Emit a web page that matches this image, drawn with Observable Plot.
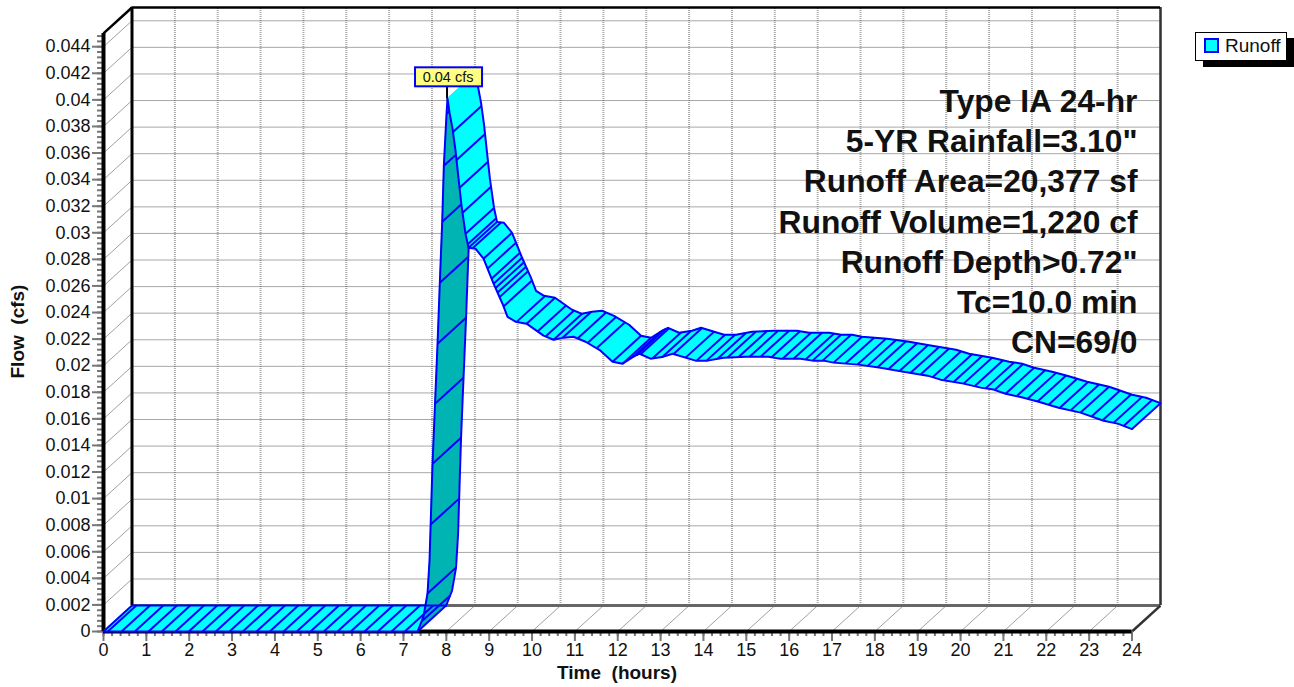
<!DOCTYPE html>
<html><head><meta charset="utf-8">
<script src="https://cdn.jsdelivr.net/npm/d3@7"></script>
<script src="https://cdn.jsdelivr.net/npm/@observablehq/plot@0.6"></script>
<style>
html,body{margin:0;padding:0;background:#fff;font-family:"Liberation Sans",Arial,sans-serif}
#wrap{position:relative;width:1294px;height:687px;overflow:hidden}
#legend{position:absolute;left:1195px;top:32px;width:90px;height:27px;border:1.5px solid #000;background:#fff;box-shadow:8px 6px 0 #000;font-size:19px;color:#111}
#legend i{position:absolute;left:8px;top:5px;width:11px;height:11px;border:2px solid #0000ff;background:#00ffff}
#legend span{position:absolute;left:29px;top:2px}
</style></head><body><div id="wrap"><div id="legend"><i></i><span>Runoff</span></div></div>
<script>
// Hydrograph (front edge of the 3-D ribbon)
const flatTimes = [0, 7.33];
const flatFlows = [0, 0];
const riseTimes = [7.33, 7.468, 7.561, 7.608, 7.678, 7.736, 7.795, 7.848, 7.904, 7.942, 8.005, 8.028];
const riseFlows = [0, .00113, .00286, .00534, .01263, .01714, .02165, .02624, .03083, .03504, .03895, .04008];
const fallTimes = [8.028, 8.075, 8.145, 8.215, 8.285, 8.355, 8.448, 8.518, 8.681, 8.868, 9.102, 9.311, 9.428, 9.615, 9.872, 10.268, 10.502, 10.735, 10.968, 11.249, 11.599, 11.879, 12.112, 12.369, 12.509, 12.765, 13.069, 13.279, 13.816, 14.096, 14.469, 14.982, 15.519, 15.799, 16.266, 16.546, 16.803, 17.036, 17.62, 18.133, 18.67, 19.23, 19.533, 20.07, 20.467, 20.77, 21.05, 21.47, 21.82, 22.287, 22.8, 23.337, 23.664, 24];
const fallFlows = [.04008, .03902, .03782, .03617, .03406, .03203, .02992, .02887, .0288, .02805, .02617, .02466, .02368, .02331, .02316, .02226, .02195, .02211, .02218, .0218, .02113, .0203, .02015, .02068, .0209, .02053, .02068, .0209, .02038, .02038, .0206, .02068, .02068, .02053, .02053, .02038, .02038, .02023, .02008, .01985, .01955, .01925, .01895, .01865, .01835, .0182, .01789, .01759, .01729, .01684, .01647, .01586, .01564, .01523];
// Times at which the ribbon carries a hatch stroke
const hatchFlat = [0, .1, .42, .73, 1.05, 1.36, 1.68, 1.99, 2.31, 2.62, 2.94, 3.25, 3.57, 3.88, 4.2, 4.51, 4.83, 5.14, 5.46, 5.77, 6.09, 6.4, 6.72, 7.03, 7.33];
const hatchRise = [7.421, 7.561, 7.634, 7.678, 7.736, 7.795, 7.848, 7.904, 7.942, 8.005];
const hatchFall = [8.155, 8.238, 8.308, 8.378, 8.448, 8.5, 8.518, 8.611, 8.868, 8.961, 9.055, 9.102, 9.148, 9.195, 9.242, 9.335, 9.638, 9.872, 10.128, 10.315, 10.502, 10.712, 11.062, 11.295, 11.505, 11.879, 12.112, 12.345, 12.439, 12.532, 12.812, 13.045, 13.302, 13.582, 13.839, 14.072, 14.329, 14.562, 14.819, 15.076, 15.333, 15.589, 15.846, 16.103, 16.383, 16.546, 16.78, 17.036, 17.316, 17.596, 17.83, 18.063, 18.32, 18.576, 18.833, 19.067, 19.347, 19.603, 19.837, 20.07, 20.327, 20.583, 20.793, 21.05, 21.307, 21.564, 21.797, 22.054, 22.31, 22.567, 22.8, 23.057, 23.314, 23.571, 23.804, 24];

const xTicks = [0,1,2,3,4,5,6,7,8,9,10,11,12,13,14,15,16,17,18,19,20,21,22,23,24];
const yTicks = [0,.002,.004,.006,.008,.01,.012,.014,.016,.018,.02,.022,.024,.026,.028,.03,.032,.034,.036,.038,.04,.042,.044];
const xMinor = d3.range(0, 120.5, 1).map(d => d / 5);
const yMinor = d3.range(0, 112.5, 1).map(d => d * .0004);
const noteLines = ["Type IA 24-hr", "5-YR Rainfall=3.10\"", "Runoff Area=20,377 sf", "Runoff Volume=1,220 cf", "Runoff Depth>0.72\"", "Tc=10.0 min", "CN=69/0"];
const peak = {t: 8.028, q: .04008, label: "0.04 cfs"};

const xTop = 24, yTop = .045;      // front plane extent
const depthX = .665, depthY = .00195; // projected depth of the chart box, in data units

const rows = (ts, qs) => ts.map((t, i) => ({t, q: qs[i]}));
const flat = rows(flatTimes, flatFlows), rise = rows(riseTimes, riseFlows), fall = rows(fallTimes, fallFlows);
const hatches = (ts, curve) => ts.map(t => {
  const i = Math.min(Math.max(d3.bisector(d => d.t).left(curve, t), 1), curve.length - 1);
  const a = curve[i - 1], b = curve[i];
  return {t, q: a.q + (b.q - a.q) * (t - a.t) / (b.t - a.t)};
});
const BLUE = "#0000ff", CYAN = "#00ffff", TEAL = "#00b4b4";
const ribbon = (curve, fill) => Plot.area(curve, {x1: "t", y1: "q", x2: d => d.t + depthX, y2: d => d.q + depthY, fill, curve: "linear"});
const edges = (curve, hts) => [
  Plot.line(curve, {x: "t", y: "q", stroke: BLUE, strokeWidth: 2, curve: "linear"}),
  Plot.line(curve, {x: d => d.t + depthX, y: d => d.q + depthY, stroke: BLUE, strokeWidth: 2, curve: "linear"}),
  Plot.link(hatches(hts, curve), {x1: "t", y1: "q", x2: d => d.t + depthX, y2: d => d.q + depthY, stroke: BLUE, strokeWidth: 2})
];

const chart = Plot.plot({
  width: 1294, height: 687,
  marginLeft: 103, marginRight: 134, marginTop: 7, marginBottom: 56,
  style: {fontFamily: '"Liberation Sans", Arial, sans-serif', background: "#fff", overflow: "visible", color: "#111"},
  x: {domain: [0, xTop + depthX], range: [103, 1160]},
  y: {domain: [0, yTop + depthY], range: [631, 7]},
  marks: [
    // back wall grid
    Plot.ruleX(xTicks.slice(1), {x: d => d + depthX, y1: depthY, y2: yTop + depthY, stroke: "#a8a8a8", strokeWidth: 2, strokeDasharray: "1 1"}),
    Plot.ruleY(yTicks.slice(1), {y: d => d + depthY, x1: depthX, x2: xTop + depthX, stroke: "#505050", strokeWidth: 1, strokeDasharray: "1 1"}),
    // side wall and floor
    Plot.link(yTicks.slice(1), {x1: 0, y1: d => d, x2: depthX, y2: d => d + depthY, stroke: "#a0a0a0", strokeWidth: 1}),
    Plot.link(xTicks.slice(1, -1), {x1: d => d, y1: 0, x2: d => d + depthX, y2: depthY, stroke: "#a0a0a0", strokeWidth: 1}),
    // box outline
    Plot.ruleY([depthY], {x1: depthX, x2: xTop + depthX, stroke: "#666", strokeWidth: 3}),
    Plot.ruleX([xTop + depthX], {y1: depthY, y2: yTop + depthY, stroke: "#333", strokeWidth: 2.5}),
    Plot.link([0], {x1: xTop, y1: 0, x2: xTop + depthX, y2: depthY, stroke: "#333", strokeWidth: 2.5}),
    Plot.ruleX([depthX], {y1: depthY, y2: yTop + depthY, stroke: "#000", strokeWidth: 3}),
    Plot.ruleY([yTop + depthY], {x1: depthX, x2: xTop + depthX, stroke: "#000", strokeWidth: 2.5}),
    Plot.link([0], {x1: 0, y1: yTop, x2: depthX, y2: yTop + depthY, stroke: "#000", strokeWidth: 2.5}),
    // axes
    Plot.axisY({ticks: yMinor.filter(d => d <= yTop), tickSize: 6, tickFormat: null, text: null, label: null, stroke: "#777", strokeWidth: 2}),
    Plot.axisX({ticks: xMinor, tickSize: 5, text: null, label: null, stroke: "#777", strokeWidth: 2}),
    Plot.axisY({ticks: yTicks, tickSize: 11, tickPadding: 2, tickFormat: d => String(d), label: null, fontSize: 18, stroke: "#777", strokeWidth: 2}),
    Plot.axisX({ticks: xTicks, tickSize: 10, tickPadding: 2, tickFormat: d => String(d), label: null, fontSize: 18, stroke: "#777", strokeWidth: 2}),
    Plot.ruleX([0], {y1: 0, y2: yTop, stroke: "#000", strokeWidth: 4}),
    Plot.ruleY([0], {x1: 0, x2: xTop, stroke: "#000", strokeWidth: 4}),
    // the hydrograph ribbon, painted in time order
    ribbon(flat, CYAN), ribbon(rise, TEAL),
    ...edges(flat, hatchFlat), ...edges(rise, hatchRise),
    ribbon(fall, CYAN),
    ...edges(fall, hatchFall),
    // axis titles
    Plot.text(["Flow  (cfs)"], {frameAnchor: "left", dx: -86, dy: 59, rotate: -90, fontWeight: "bold", fontSize: 19, fill: "#111"}),
    Plot.text(["Time  (hours)"], {frameAnchor: "bottom", dx: -15, dy: 47, fontWeight: "bold", fontSize: 19, fill: "#111"}),
    // notes
    Plot.text([noteLines.join("\n")], {frameAnchor: "top-right", dx: -23, dy: 76, textAnchor: "end", lineHeight: 40.2 / 31.8, fontWeight: "bold", fontSize: 31.8, fill: "#111"}),
    // peak callout
    (index, {x, y}) => {
      const g = d3.create("svg:g"), px = x(peak.t), py = y(peak.q);
      g.append("line").attr("x1", px).attr("x2", px).attr("y1", py).attr("y2", py - 12).attr("stroke", "#000").attr("stroke-width", 2);
      g.append("rect").attr("x", px - 32).attr("y", py - 31).attr("width", 67).attr("height", 19).attr("fill", "#ffff80").attr("stroke", BLUE).attr("stroke-width", 2);
      g.append("text").attr("x", px + 1).attr("y", py - 21.5).attr("dy", "0.35em").attr("text-anchor", "middle").attr("font-size", 14.5).attr("fill", "#111").text(peak.label);
      return g.node();
    }
  ]
});
document.getElementById("wrap").prepend(chart);
chart.style.display = "block";
</script></body></html>
